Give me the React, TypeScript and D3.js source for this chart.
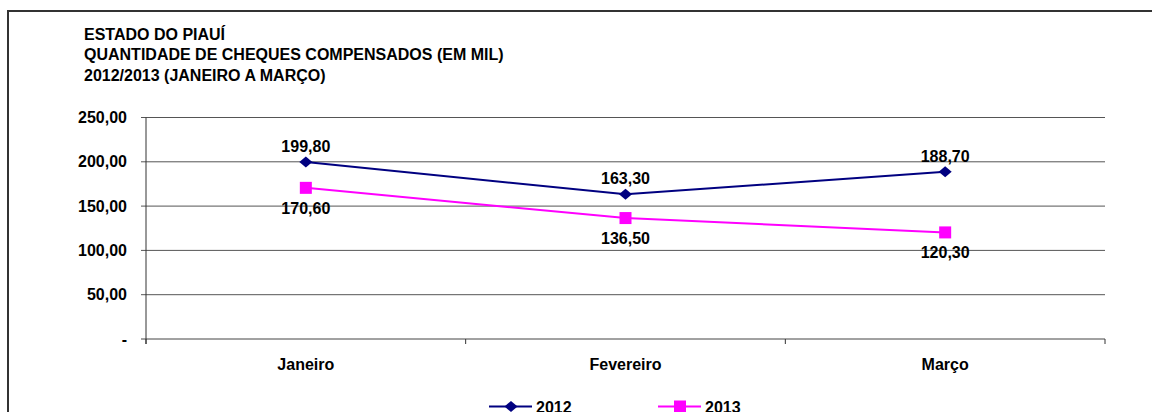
import React from "react";
import * as d3 from "d3";

const months = ["Janeiro", "Fevereiro", "Março"];
const values2012 = [199.8, 163.3, 188.7];
const values2013 = [170.6, 136.5, 120.3];
const yTicks = [0, 50, 100, 150, 200, 250];
const titleLines = [
  "ESTADO DO PIAUÍ",
  "QUANTIDADE DE CHEQUES COMPENSADOS (EM MIL)",
  "2012/2013 (JANEIRO A MARÇO)",
];

const W = 1152;
const H = 412;
const FONT = "'Liberation Sans', Arial, sans-serif";
const plot = { left: 146, right: 1105, top: 117.5, bottom: 339 };

// Brazilian number format: "." for thousands, "," for decimals; zero shown as a dash
const fmt = (v: number) =>
  v === 0 ? "-" : d3.format(",.2f")(v).replace(/,/g, "#").replace(".", ",").replace(/#/g, ".");

export default function App() {
  const x = d3.scaleBand().domain(months).range([plot.left, plot.right]);
  const y = d3.scaleLinear().domain([0, 250]).range([plot.bottom, plot.top]);
  const cx = (m: string) => (x(m) as number) + x.bandwidth() / 2;
  const line = d3
    .line<number>()
    .x((_, i) => cx(months[i]))
    .y((d) => y(d));

  const series = [
    { name: "2012", values: values2012, color: "#000080", shape: "diamond", labelAbove: true },
    { name: "2013", values: values2013, color: "#FF00FF", shape: "square", labelAbove: false },
  ];

  const marker = (shape: string, px: number, py: number, color: string, key: string | number) =>
    shape === "diamond" ? (
      <path key={key} d={`M${px},${py - 5.5}L${px + 6.5},${py}L${px},${py + 5.5}L${px - 6.5},${py}Z`} fill={color} />
    ) : (
      <rect key={key} x={px - 6} y={py - 6} width={12} height={12} fill={color} />
    );

  const bounds = [...months.map((m) => x(m) as number), plot.right];

  return (
    <svg width={W} height={H} style={{ position: "absolute", left: 0, top: 0, background: "#fff" }} fontFamily={FONT}>
      <rect x={0} y={0} width={W} height={H} fill="#fff" />
      {/* outer frame */}
      <path d={`M8,${H}V11H${W}`} fill="none" stroke="#333" strokeWidth={2} />

      {/* title */}
      {titleLines.map((t, i) => (
        <text key={t} x={84} y={39.5 + i * 20.5} fontSize={16} fontWeight="bold" fill="#000">
          {t}
        </text>
      ))}

      {/* gridlines and y ticks */}
      {yTicks.map((t) => (
        <g key={t}>
          <line x1={plot.left - 5} x2={plot.right} y1={y(t)} y2={y(t)} stroke={t === 0 ? "#444" : "#555"} strokeWidth={1} />
          <text x={127} y={y(t)} dy="0.35em" textAnchor="end" fontSize={16} fontWeight="bold">
            {fmt(t)}
          </text>
        </g>
      ))}
      {/* axes */}
      <line x1={plot.left} x2={plot.left} y1={plot.top} y2={plot.bottom + 5} stroke="#333" />
      {bounds.map((b, i) => (
        <line key={i} x1={b} x2={b} y1={plot.bottom} y2={plot.bottom + 5} stroke="#333" />
      ))}
      {months.map((m) => (
        <text key={m} x={cx(m)} y={370} textAnchor="middle" fontSize={16} fontWeight="bold">
          {m}
        </text>
      ))}

      {/* series */}
      {series.map((s) => (
        <g key={s.name}>
          <path d={line(s.values) || ""} fill="none" stroke={s.color} strokeWidth={2} />
          {s.values.map((v, i) => marker(s.shape, cx(months[i]), y(v), s.color, i))}
          {s.values.map((v, i) => (
            <text
              key={"l" + i}
              x={cx(months[i])}
              y={y(v) + (s.labelAbove ? -10 : 26)}
              textAnchor="middle"
              fontSize={16}
              fontWeight="bold"
            >
              {fmt(v)}
            </text>
          ))}
        </g>
      ))}

      {/* legend */}
      {series.map((s, i) => {
        const lx = 489 + i * 169;
        const ly = 406.5;
        return (
          <g key={"lg" + s.name}>
            <line x1={lx} x2={lx + 43} y1={ly} y2={ly} stroke={s.color} strokeWidth={2} />
            {marker(s.shape, lx + 22, ly, s.color, "m")}
            <text x={lx + 47} y={ly + 6} fontSize={16} fontWeight="bold">
              {s.name}
            </text>
          </g>
        );
      })}
    </svg>
  );
}
